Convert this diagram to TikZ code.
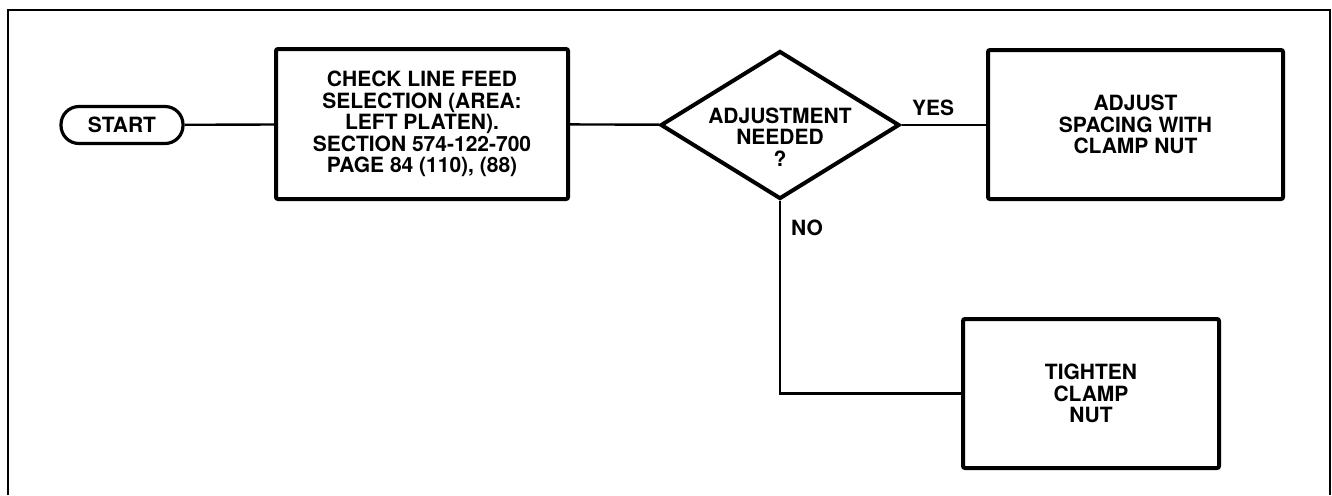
\documentclass[tikz,border=0pt]{standalone}
\usepackage{fontspec}
\setmainfont{TeX Gyre Heros}
\usetikzlibrary{shapes.geometric}
\begin{document}
\begin{tikzpicture}[x=0.5pt,y=-0.5pt,
  txt/.style={font=\bfseries\fontsize{10.5pt}{10.7pt}\selectfont, align=center, inner sep=0pt},
  procbox/.style={draw, line width=2pt, rounded corners=1pt, txt},
  conn/.style={line width=1.2pt},
  lbl/.style={font=\bfseries\fontsize{10.5pt}{12pt}\selectfont, inner sep=0pt}]
\useasboundingbox (0,0) rectangle (1332,495);
\draw[line width=1.4pt] (8,495) -- (8,10) -- (1330,10) -- (1330,495);
\node[draw, line width=1.6pt, rounded corners=9pt, minimum width=61pt, minimum height=18.5pt, txt] (start) at (122,125) {START};
\node[procbox, minimum width=146pt, minimum height=75pt] (check) at (422,124) {CHECK LINE FEED\\SELECTION (AREA:\\LEFT PLATEN).\\SECTION 574-122-700\\PAGE 84 (110), (88)};
\node[diamond, draw, line width=2pt, minimum width=119.5pt, minimum height=74pt, inner sep=0pt] (dec) at (780,125) {};
\node[txt] (dectext) at (780,137) {ADJUSTMENT\\NEEDED\\?};
\node[procbox, minimum width=147.5pt, minimum height=74.5pt] (adjust) at (1135.5,124.5) {ADJUST\\SPACING WITH\\CLAMP NUT};
\node[procbox, minimum width=128pt, minimum height=74.5pt] (tighten) at (1091,393.5) {TIGHTEN\\CLAMP\\NUT};
\draw[conn] (start) -- (check);
\draw[conn] (check) -- (dec);
\draw[conn] (dec.east) -- (adjust.west |- dec.east);
\draw[conn] (dec.south) |- (tighten.west);
\node[lbl] (yes) at (933,108) {YES};
\node[lbl] (no) at (807,228) {NO};
\end{tikzpicture}
\end{document}
